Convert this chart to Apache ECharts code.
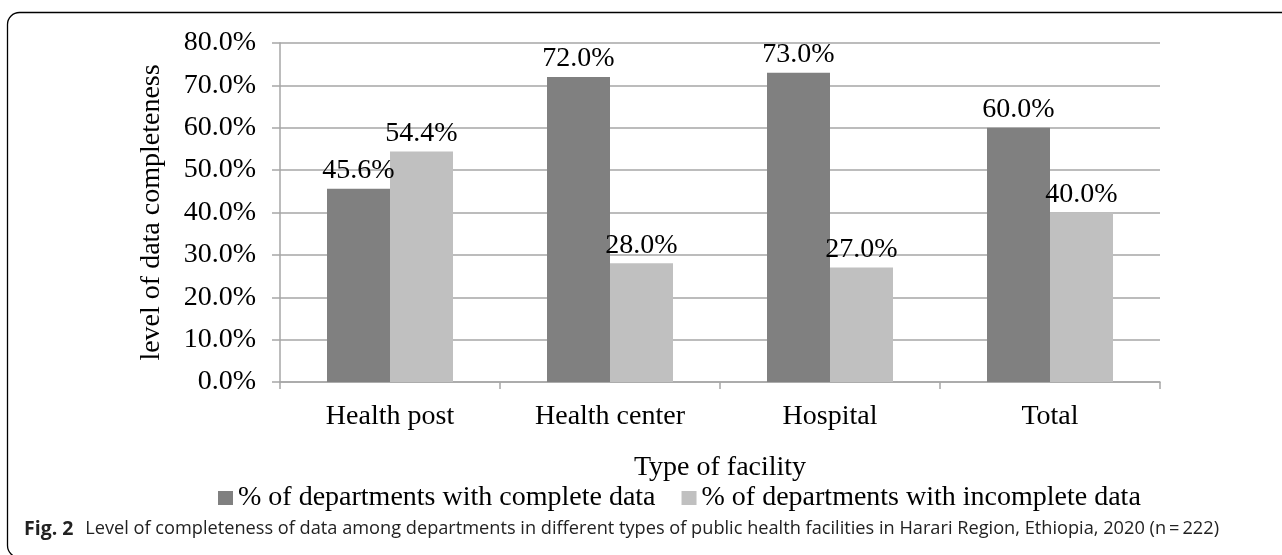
<!DOCTYPE html>
<html>
<head>
<meta charset="utf-8">
<script src="https://cdn.jsdelivr.net/npm/echarts@6/dist/echarts.min.js"></script>
<style>html,body{margin:0;padding:0;background:#fff;}#c{width:1282px;height:555px;}</style>
</head>
<body>
<div id="c"></div>
<script>
const categories = ['Health post', 'Health center', 'Hospital', 'Total'];
const completeData = [45.6, 72.0, 73.0, 60.0];
const incompleteData = [54.4, 28.0, 27.0, 40.0];
const seriesNames = ['% of departments with complete data', '% of departments with incomplete data'];
const yTicks = [0, 10, 20, 30, 40, 50, 60, 70, 80];
const yAxisTitle = 'level of data completeness';
const xAxisTitle = 'Type of facility';
const captionBold = 'Fig. 2';
const captionText = 'Level of completeness of data among departments in different types of public health facilities in Harari Region, Ethiopia, 2020 (n\u2009=\u2009222)';

const serif = '"Liberation Serif", "DejaVu Serif", serif';
const FS = 28;
const chart = echarts.init(document.getElementById('c'), null, {renderer: 'canvas'});
const labelCfg = {
  show: true, position: 'top', distance: 4,
  fontFamily: serif, fontSize: FS, color: '#000',
  formatter: p => p.value.toFixed(1) + '%'
};
chart.setOption({
  animation: false,
  backgroundColor: '#fff',
  textStyle: {fontFamily: serif},
  grid: {left: 280, right: 122, top: 43, bottom: 173, containLabel: false},
  legend: {
    data: seriesNames, left: 218, top: 484, padding: 0,
    itemWidth: 15, itemHeight: 14, icon: 'rect', itemGap: 26,
    textStyle: {fontFamily: serif, fontSize: FS, color: '#000'}
  },
  xAxis: {
    type: 'category', data: categories,
    name: xAxisTitle, nameLocation: 'middle', nameGap: 72,
    nameTextStyle: {fontFamily: serif, fontSize: FS, color: '#000'},
    axisLine: {lineStyle: {color: '#a6a6a6', width: 1.5}},
    axisTick: {show: true, length: 7, lineStyle: {color: '#a6a6a6', width: 1.5}},
    axisLabel: {fontFamily: serif, fontSize: FS, color: '#000', margin: 21}
  },
  yAxis: {
    type: 'value', min: yTicks[0], max: yTicks[yTicks.length - 1], interval: 10,
    name: yAxisTitle, nameLocation: 'middle', nameGap: 114,
    nameTextStyle: {fontFamily: serif, fontSize: FS, color: '#000'},
    axisLine: {show: true, lineStyle: {color: '#a6a6a6', width: 1.5}},
    axisTick: {show: true, length: 8, lineStyle: {color: '#a6a6a6', width: 1.5}},
    axisLabel: {fontFamily: serif, fontSize: FS, color: '#000', margin: 24,
      formatter: v => v.toFixed(1) + '%'},
    splitLine: {lineStyle: {color: '#a6a6a6', width: 1.5}}
  },
  series: [
    {name: seriesNames[0], type: 'bar', data: completeData, barWidth: 63, barGap: '0%',
      itemStyle: {color: '#808080'}, label: labelCfg},
    {name: seriesNames[1], type: 'bar', data: incompleteData, barWidth: 63, barGap: '0%',
      itemStyle: {color: '#c0c0c0'}, label: labelCfg}
  ],
  graphic: [
    {type: 'rect', shape: {x: 7.5, y: 12.5, width: 1320, height: 545, r: 12},
      style: {fill: 'none', stroke: '#000', lineWidth: 1.3}, silent: true},
    {type: 'text', x: 24, y: 529,
      style: {text: '{b|' + captionBold + '} ' + captionText,
        font: '18.2px "Open Sans", sans-serif', fill: '#222', verticalAlign: 'middle',
        rich: {b: {fontFamily: '"Open Sans", sans-serif', fontWeight: 'bold', fontSize: 19.5, fill: '#222', padding: [0, 7, 0, 0]}}}}
  ]
});
</script>
</body>
</html>
